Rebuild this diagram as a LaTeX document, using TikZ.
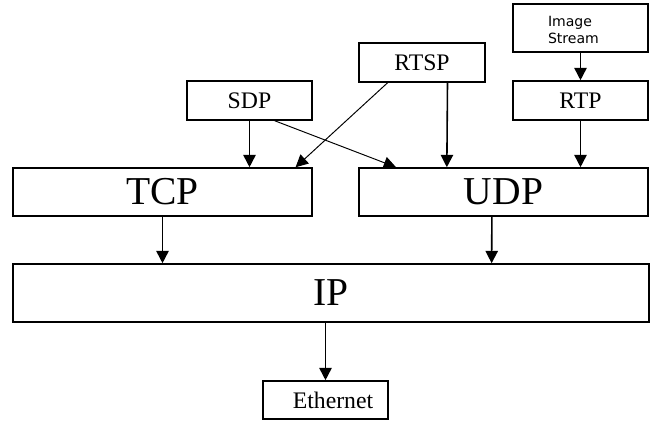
\documentclass[tikz,border=0pt]{standalone}
\usepackage{fontspec}
\setmainfont{Liberation Serif}
\newfontfamily\streamfont{DejaVu Sans}
\usetikzlibrary{arrows.meta,positioning,calc}

\begin{document}
\begin{tikzpicture}[
    x=0.02cm, y=-0.02cm,
    % boxes for the protocol stack
    proto/.style={draw, line width=0.9pt, rectangle, inner sep=0pt, align=center},
    small/.style={proto, minimum height=0.78cm, font=\fontsize{13.5}{16}\selectfont},
    big/.style={proto, minimum height=0.96cm, font=\fontsize{22.5}{26}\selectfont},
    flow/.style={-{Triangle[length=7pt,width=7pt]}, line width=0.9pt},
    cross/.style={-{Triangle[length=7pt,width=7pt]}, line width=0.55pt}
]
\useasboundingbox (0,0) rectangle (667,423);

% ==================== TOP ROW ====================
\node[proto, minimum height=0.96cm, inner xsep=0.7cm, text width=1.3cm, text depth=8pt,
      font=\streamfont\fontsize{8}{10}\selectfont, align=left] (stream) at (580.5,28) {Image\\Stream};
\node[small, minimum width=2.70cm] (rtp) at (580.5,100.5) {RTP};
\node[small, minimum width=2.52cm] (rtsp) at (422,62.5) {RTSP};
\node[small, minimum width=2.50cm] (sdp) at (249.5,100.5) {SDP};

% ==================== TRANSPORT ====================
\node[big, minimum width=5.98cm] (tcp) at (162.5,192) {TCP};
\node[big, minimum width=5.78cm] (udp) at (503.5,192) {UDP};

% ==================== NETWORK / LINK ====================
\node[big, minimum width=12.72cm, minimum height=1.16cm] (ip) at (331,293) {IP};
\node[small, minimum width=2.50cm, minimum height=0.76cm] (eth) at (325.5,400) {\hspace{0.3cm}Ethernet};

% straight arrows
\foreach \a/\b in {stream/rtp, rtp/udp, sdp/tcp, tcp/ip}
    \draw[flow] (\a.south) -- (\a.south |- \b.north);
\draw[flow] ($(rtsp.south west)!0.70!(rtsp.south east)$) -- ($(udp.north west)!0.305!(udp.north east)$);
\draw[flow] ($(udp.south west)!0.46!(udp.south east)$) -- ($(ip.north west)!0.752!(ip.north east)$);
\draw[flow] (ip.south -| eth.north) -- (eth.north);

% crossing arrows
\draw[cross] ($(rtsp.south west)!0.23!(rtsp.south east)$) -- ($(tcp.north west)!0.943!(tcp.north east)$);
\draw[cross] ($(sdp.south west)!0.70!(sdp.south east)$) -- ($(udp.north west)!0.13!(udp.north east)$);

\end{tikzpicture}
\end{document}
